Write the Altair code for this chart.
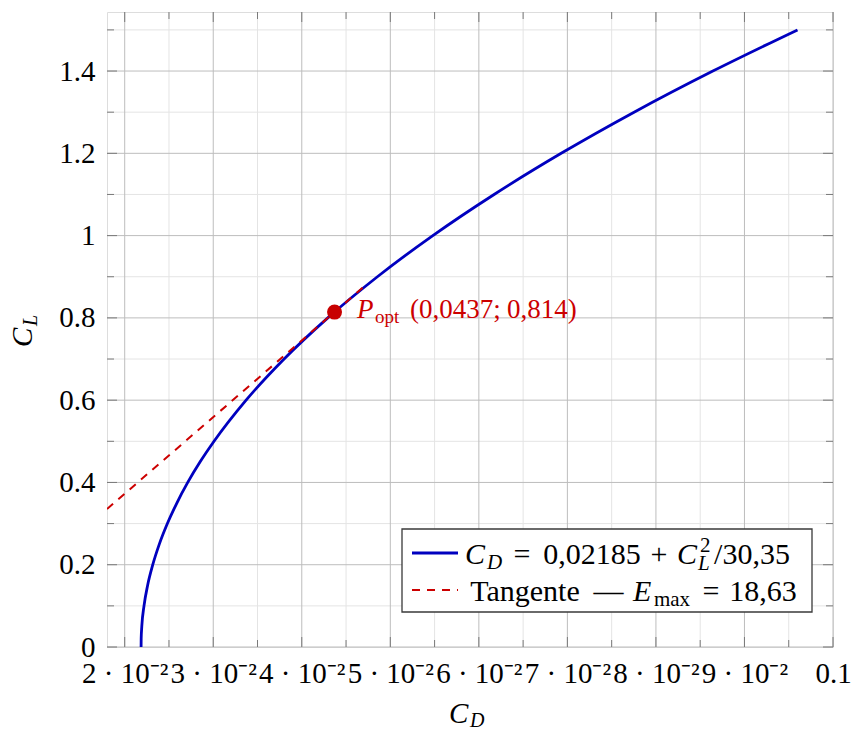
import altair as alt
import pandas as pd

# ---------------- data ----------------
CL = [0.0, 0.02, 0.05, 0.1, 0.15, 0.2, 0.25, 0.3, 0.35, 0.4, 0.45, 0.5,
      0.6, 0.7, 0.8, 0.9, 1.0, 1.1, 1.2, 1.3, 1.4, 1.5]
CD = [0.02185, 0.02186, 0.02193, 0.02218, 0.02259, 0.02317, 0.02391, 0.02482,
      0.02589, 0.02712, 0.02852, 0.03009, 0.03371, 0.03800, 0.04294, 0.04854,
      0.05480, 0.06172, 0.06930, 0.07753, 0.08643, 0.09599]
TAN_CD = [0.018, 0.047]
TAN_CL = [0.3353, 0.8756]
P_OPT_CD = [0.0437]
P_OPT_CL = [0.814]

X_TICKS = [0.02, 0.03, 0.04, 0.05, 0.06, 0.07, 0.08, 0.09, 0.1]
X_TICK_LABELS = ["2 · 10⁻²", "3 · 10⁻²", "4 · 10⁻²", "5 · 10⁻²", "6 · 10⁻²",
                 "7 · 10⁻²", "8 · 10⁻²", "9 · 10⁻²", "0.1"]
X_MINOR = [0.025, 0.035, 0.045, 0.055, 0.065, 0.075, 0.085, 0.095]
Y_TICKS = [0.0, 0.2, 0.4, 0.6, 0.8, 1.0, 1.2, 1.4]
Y_TICK_LABELS = ["0", "0.2", "0.4", "0.6", "0.8", "1", "1.2", "1.4"]
Y_MINOR = [0.1, 0.3, 0.5, 0.7, 0.9, 1.1, 1.3, 1.5]

# ---------------- layout / style ----------------
W, H = 726, 635
LEFT, TOP = 107, 12
FONT = "Liberation Serif"
BLUE = "#0000bf"
RED = "#cc0000"
GRID_MAJOR = "#bdbdbd"
GRID_MINOR = "#e4e4e4"
TICK_COLOR = "#7a7a7a"

xs = alt.Scale(domain=[0.018, 0.1], nice=False, zero=False)
ys = alt.Scale(domain=[0, 1.5435], nice=False, zero=False)

x_label_expr = "[" + ",".join("'%s'" % s for s in X_TICK_LABELS) + "][round(datum.value*100)-2]"
y_label_expr = "[" + ",".join("'%s'" % s for s in Y_TICK_LABELS) + "][round(datum.value*5)]"

xaxis = alt.Axis(values=X_TICKS, labelExpr=x_label_expr, grid=False, ticks=False,
                 tickSize=0, domain=False, title=None, labelFont=FONT,
                 labelFontSize=29, labelColor="black", labelOverlap=False,
                 labelFlush=False, labelBaseline="alphabetic", labelPadding=35)
yaxis = alt.Axis(values=Y_TICKS, labelExpr=y_label_expr, grid=False, ticks=False,
                 tickSize=0, domain=False, title=None, labelFont=FONT,
                 labelFontSize=29, labelColor="black", labelOverlap=False,
                 labelFlush=False, labelPadding=12)


def X(field):
    return alt.X(field, type="quantitative", scale=xs, axis=xaxis)


def Y(field):
    return alt.Y(field, type="quantitative", scale=ys, axis=yaxis)


one = pd.DataFrame({"k": [0]})


def txt(s, px, py, size, style="normal", color="black", angle=None, align="left",
        baseline="alphabetic"):
    kw = dict(text=s, font=FONT, fontSize=size, fontStyle=style, color=color,
              align=align, baseline=baseline)
    if angle is not None:
        kw["angle"] = angle
    return alt.Chart(one).mark_text(**kw).encode(x=alt.value(px - LEFT), y=alt.value(py - TOP))


curve_df = pd.DataFrame({"CD": CD, "CL": CL})
tan_df = pd.DataFrame({"CD": TAN_CD, "CL": TAN_CL})
p_df = pd.DataFrame({"CD": P_OPT_CD, "CL": P_OPT_CL})
xmaj = pd.DataFrame({"v": X_TICKS})
xmin = pd.DataFrame({"v": X_MINOR})
ymaj = pd.DataFrame({"v": Y_TICKS})
ymin = pd.DataFrame({"v": Y_MINOR})

layers = []
# grid
layers.append(alt.Chart(xmin).mark_rule(color=GRID_MINOR, strokeWidth=1).encode(x=X("v")))
layers.append(alt.Chart(ymin).mark_rule(color=GRID_MINOR, strokeWidth=1).encode(y=Y("v")))
layers.append(alt.Chart(xmaj).mark_rule(color=GRID_MAJOR, strokeWidth=1).encode(x=X("v")))
layers.append(alt.Chart(ymaj).mark_rule(color=GRID_MAJOR, strokeWidth=1).encode(y=Y("v")))
# ticks (inside, all four sides)
for df, ln in ((xmaj, 10), (xmin, 7)):
    layers.append(alt.Chart(df).mark_rule(color=TICK_COLOR, strokeWidth=1).encode(
        x=X("v"), y=alt.value(H), y2=alt.value(H - ln)))
    layers.append(alt.Chart(df).mark_rule(color=TICK_COLOR, strokeWidth=1).encode(
        x=X("v"), y=alt.value(0), y2=alt.value(ln)))
for df, ln in ((ymaj, 10), (ymin, 7)):
    layers.append(alt.Chart(df).mark_rule(color=TICK_COLOR, strokeWidth=1).encode(
        y=Y("v"), x=alt.value(0), x2=alt.value(ln)))
    layers.append(alt.Chart(df).mark_rule(color=TICK_COLOR, strokeWidth=1).encode(
        y=Y("v"), x=alt.value(W - ln), x2=alt.value(W)))

# drag polar
layers.append(alt.Chart(curve_df).mark_line(color=BLUE, strokeWidth=2.8, clip=True,
                                            interpolate="monotone").encode(
    x=X("CD"), y=Y("CL"), order="CL:Q"))
# tangent
layers.append(alt.Chart(tan_df).mark_line(color=RED, strokeWidth=2, strokeDash=[8, 7],
                                          clip=True).encode(x=X("CD"), y=Y("CL"), order="CL:Q"))
# optimum point
layers.append(alt.Chart(p_df).mark_circle(color="#c80000", size=225, opacity=1).encode(
    x=X("CD"), y=Y("CL")))

# annotation
layers += [
    txt("P", 357, 318, 27, "italic", RED),
    txt("opt", 375, 323, 19, "normal", RED),
    txt("(0,0437;", 410, 318, 27, "normal", RED),
    txt("0,814)", 507, 318, 27, "normal", RED),
]

# legend
layers.append(alt.Chart(one).mark_rect(fill="white", stroke="#3a3a3a", strokeWidth=1.3).encode(
    x=alt.value(402 - LEFT), x2=alt.value(812 - LEFT), y=alt.value(529 - TOP), y2=alt.value(612 - TOP)))
layers.append(alt.Chart(one).mark_rule(color=BLUE, strokeWidth=2.8).encode(
    x=alt.value(412 - LEFT), x2=alt.value(458 - LEFT), y=alt.value(553 - TOP)))
layers.append(alt.Chart(one).mark_rule(color=RED, strokeWidth=2, strokeDash=[8, 7]).encode(
    x=alt.value(412 - LEFT), x2=alt.value(458 - LEFT), y=alt.value(590 - TOP)))
layers += [
    txt("C", 465, 564, 30, "italic"),
    txt("D", 487, 569, 21, "italic"),
    txt("=", 522, 564, 30, align="center"),
    txt("0,02185", 592, 564, 30, align="center"),
    txt("+", 659, 564, 30, align="center"),
    txt("C", 677, 564, 30, "italic"),
    txt("2", 700, 552, 21),
    txt("L", 698, 570, 21, "italic"),
    txt("/30,35", 752, 564, 30, align="center"),
    txt("Tangente", 525, 601, 30, align="center"),
    txt("—", 608.5, 601, 30, align="center"),
    txt("E", 633, 601, 30, "italic"),
    txt("max", 672, 606, 21, align="center"),
    txt("=", 711, 601, 30, align="center"),
    txt("18,63", 763, 601, 30, align="center"),
]

# axis titles
layers += [
    txt("C", 449, 723, 29, "italic"),
    txt("D", 470, 727, 20, "italic"),
    txt("C", 32, 347, 29, "italic", angle=270),
    txt("L", 37, 326, 20, "italic", angle=270),
]

chart = alt.layer(*layers).properties(
    width=W, height=H,
    padding={"left": LEFT, "top": TOP, "right": 853 - LEFT - W, "bottom": 731 - TOP - H},
    autosize=alt.AutoSizeParams(type="none"),
).configure_view(stroke="#222222", strokeWidth=1.5).configure(background="white")

chart.save("out.html", embed_options={"renderer": "svg", "actions": False})
